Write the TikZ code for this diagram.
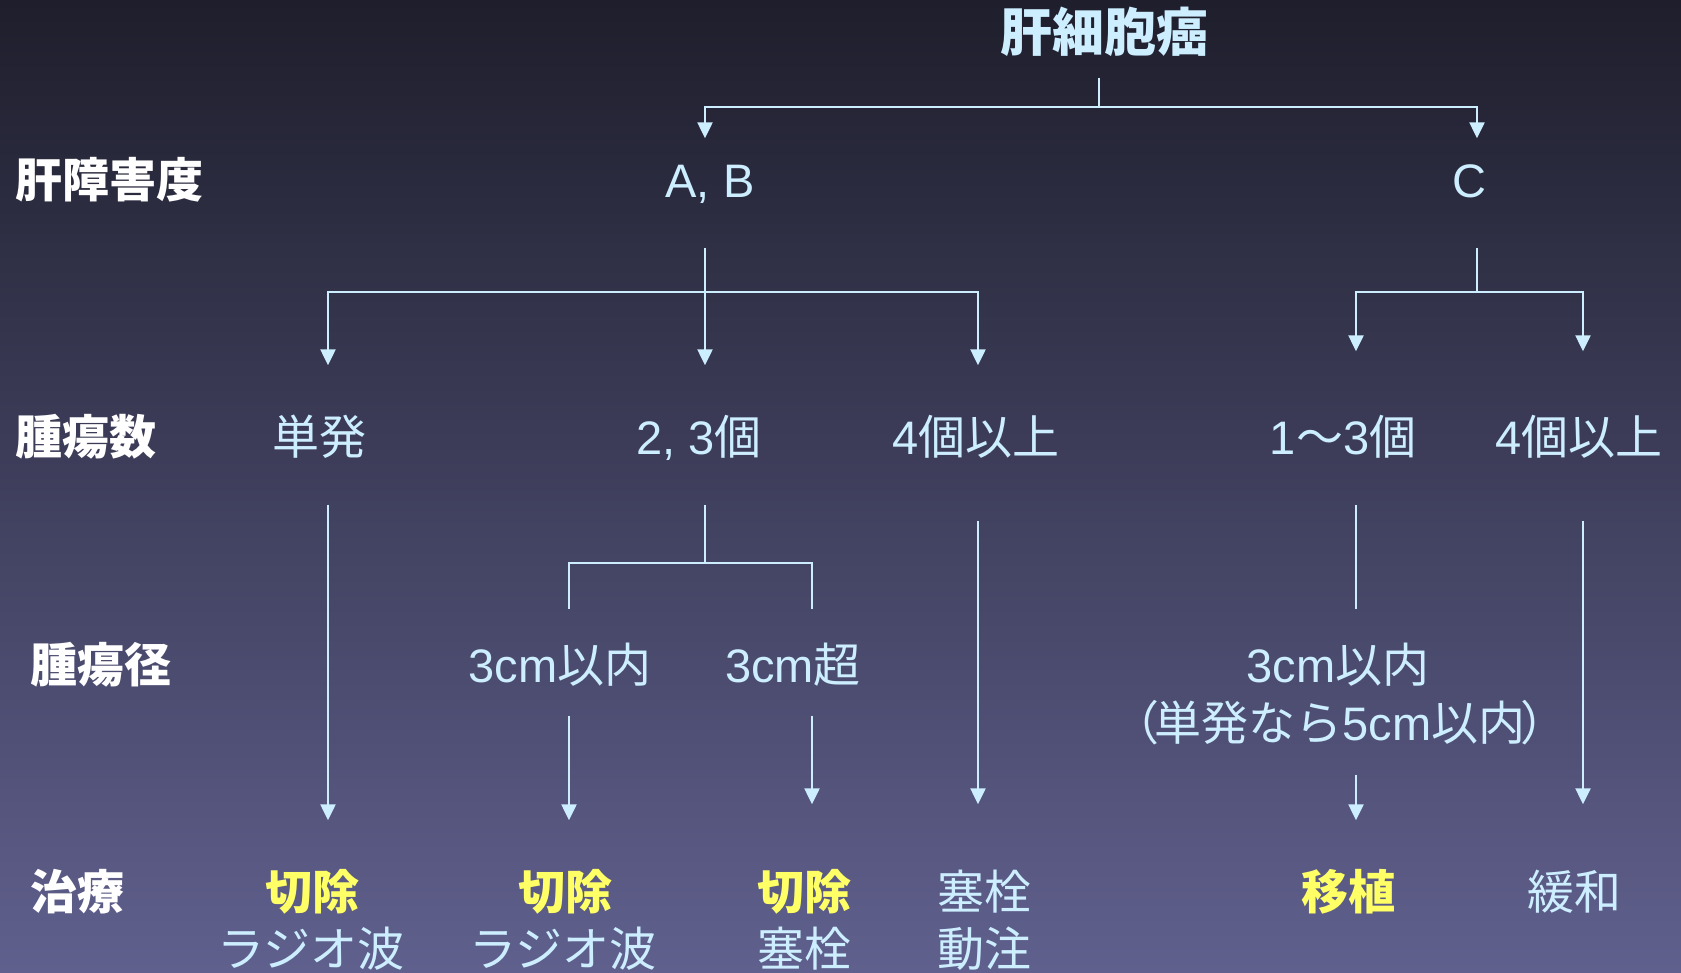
\documentclass[tikz,border=0pt]{standalone}
\usepackage{fontspec}
\setmainfont{Noto Sans CJK JP}
\newfontfamily\lat{Liberation Sans}
\usetikzlibrary{arrows.meta}
\definecolor{bgtop}{RGB}{30,30,44}
\definecolor{bgbot}{RGB}{96,96,142}
\definecolor{pale}{RGB}{204,238,255}
\definecolor{hilite}{RGB}{255,255,102}

\begin{document}
\begin{tikzpicture}[x=1pt, y=-1pt,
        txt/.style={inner sep=0pt, text height=41pt, text depth=6pt,
                    font=\fontsize{47}{56}\selectfont, text=pale},
        head/.style={txt, anchor=west, text=white,
                     font=\fontsize{47}{56}\selectfont\bfseries},
        cure/.style={txt, text=hilite,
                     font=\fontsize{47}{56}\selectfont\bfseries},
        link/.style={draw=pale, line width=2.3pt},
        arrow/.style={link, -{Triangle[length=16pt, width=15pt]}},
    ]
    % background
    \shade[top color=bgtop, bottom color=bgbot] (0,0) rectangle (1681,972);
    \useasboundingbox (0,0) rectangle (1681,972);

    % row headings
    \node[head] (lvliver) at (15,180) {肝障害度};
    \node[head] (lvcount) at (15,437) {腫瘍数};
    \node[head] (lvsize)  at (30,665) {腫瘍径};
    \node[head] (lvtreat) at (30,892) {治療};

    \node[txt, font=\fontsize{52}{60}\selectfont\bfseries] (hcc) at (1104,34) {肝細胞癌};
    \node[txt] (ab) at (710,180) {\lat A, B};
    \node[txt] (c)  at (1469,180) {\lat C};

    \node[txt] (single)   at (319,437)  {単発};
    \node[txt] (two)      at (699,437)  {{\lat 2, 3}個};
    \node[txt] (fourab)   at (976,437)  {{\lat 4}個以上};
    \node[txt] (onethree) at (1343,437) {{\lat 1}〜{\lat 3}個};
    \node[txt] (fourc)    at (1579,437) {{\lat 4}個以上};

    \node[txt] (le3)  at (560,665)  {{\lat 3cm}以内};
    \node[txt] (gt3)  at (793,665)  {{\lat 3cm}超};
    \node[txt] (le3c) at (1338,665) {{\lat 3cm}以内};
    \node[txt] (note) at (1340,723) {（\kern-.1em 単発なら{\lat 5cm}以内\kern-.1em ）};

    \node[cure] (cut1)  at (312,892)  {切除};
    \node[txt]  (rfa1)  at (311,949)  {ラジオ波};
    \node[cure] (cut2)  at (565,892)  {切除};
    \node[txt]  (rfa2)  at (563,949)  {ラジオ波};
    \node[cure] (cut3)  at (804,892)  {切除};
    \node[txt]  (emb1)  at (804,949)  {塞栓};
    \node[txt]  (emb2)  at (984,892)  {塞栓};
    \node[txt]  (hai)   at (984,949)  {動注};
    \node[cure] (trans) at (1348,892) {移植};
    \node[txt]  (pall)  at (1574,892) {緩和};

    % liver damage
    \draw[link, shorten <=20pt] ([xshift=-5pt]hcc.south) -- ++(0,49) coordinate (j0);
    \draw[arrow, shorten >=18pt] (j0) -| ([xshift=-5pt]ab.north);
    \draw[arrow, shorten >=18pt] (j0) -| ([xshift=8pt]c.north);

    % tumour count
    \draw[link, shorten <=44pt] ([xshift=-5pt]ab.south) -- ++(0,88) coordinate (j1);
    \draw[arrow, shorten >=48pt] (j1) -| ([xshift=9pt]single.north);
    \draw[arrow, shorten >=48pt] (j1) -- ([xshift=6pt]two.north);
    \draw[arrow, shorten >=48pt] (j1) -| ([xshift=2pt]fourab.north);
    \draw[link, shorten <=44pt] ([xshift=8pt]c.south) -- ++(0,88) coordinate (j2);
    \draw[arrow, shorten >=62pt] (j2) -| ([xshift=13pt]onethree.north);
    \draw[arrow, shorten >=62pt] (j2) -| ([xshift=4pt]fourc.north);

    % tumour size
    \draw[link, shorten <=44pt] ([xshift=6pt]two.south) -- ++(0,102) coordinate (j3);
    \draw[link, shorten >=32pt] (j3) -| ([xshift=9pt]le3.north);
    \draw[link, shorten >=32pt] (j3) -| ([xshift=19pt]gt3.north);
    \draw[link, shorten <=44pt, shorten >=32pt] ([xshift=13pt]onethree.south) -- ([xshift=18pt]le3c.north);

    % treatment
    \draw[arrow, shorten <=44pt, shorten >=48pt] ([xshift=9pt]single.south) -- ([xshift=16pt]cut1.north);
    \draw[arrow, shorten <=27pt, shorten >=48pt] ([xshift=9pt]le3.south) -- ([xshift=4pt]cut2.north);
    \draw[arrow, shorten <=27pt, shorten >=64pt] ([xshift=19pt]gt3.south) -- ([xshift=8pt]cut3.north);
    \draw[arrow, shorten <=60pt, shorten >=64pt] ([xshift=2pt]fourab.south) -- ([xshift=-6pt]emb2.north);
    \draw[arrow, shorten <=28pt, shorten >=48pt] ([xshift=16pt]note.south) -- ([xshift=8pt]trans.north);
    \draw[arrow, shorten <=60pt, shorten >=64pt] ([xshift=4pt]fourc.south) -- ([xshift=9pt]pall.north);
\end{tikzpicture}
\end{document}
